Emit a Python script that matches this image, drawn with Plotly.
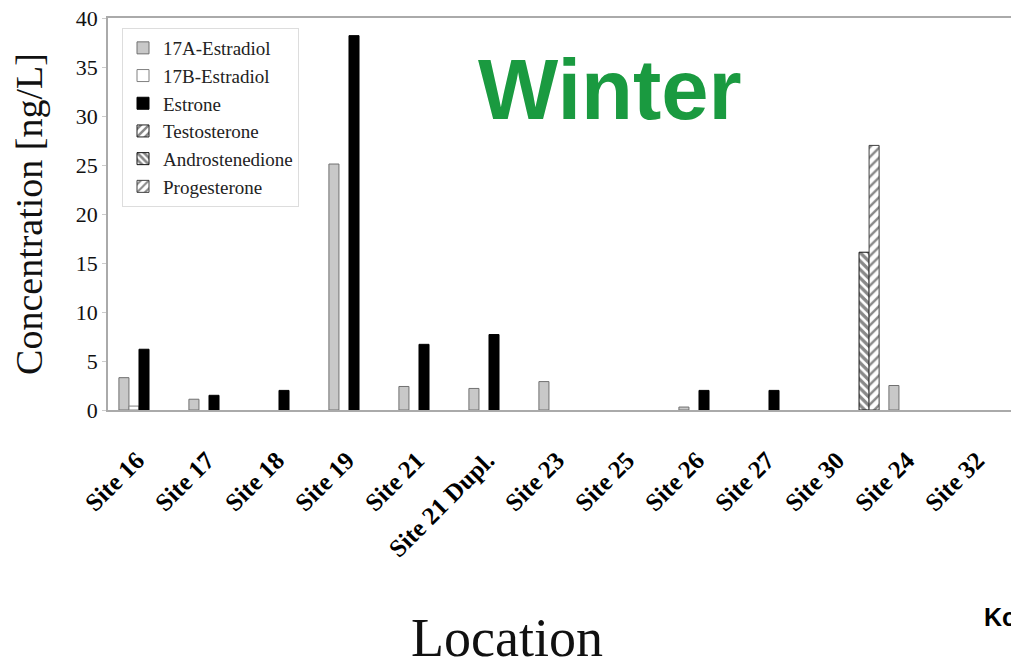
import plotly.graph_objects as go

sites = ["Site 16", "Site 17", "Site 18", "Site 19", "Site 21", "Site 21 Dupl.",
         "Site 23", "Site 25", "Site 26", "Site 27", "Site 30", "Site 24", "Site 32"]
N = None  # no bar drawn
estradiol_17a = [3.3, 1.1, N, 25.1, 2.4, 2.2, 2.9, N, 0.3, N, N, 2.5, N]
estradiol_17b = [0.4, N, N, N, N, N, N, N, N, N, N, N, N]
estrone = [6.2, 1.5, 2.0, 38.2, 6.7, 7.7, N, N, 2.0, 2.0, N, N, N]
testosterone = [N, N, N, N, N, N, N, N, N, N, N, N, N]
androstenedione = [N, N, N, N, N, N, N, N, N, N, 16.1, N, N]
progesterone = [N, N, N, N, N, N, N, N, N, N, 27.0, N, N]
y_ticks = [0, 5, 10, 15, 20, 25, 30, 35, 40]

series = [
    ("17A-Estradiol", estradiol_17a, "#c8c8c8", "#707070", "", 0, 7),
    ("17B-Estradiol", estradiol_17b, "#ffffff", "#808080", "", 0, 7),
    ("Estrone", estrone, "#000000", "#000000", "", 0, 7),
    ("Testosterone", testosterone, "#ffffff", "#202020", "/", 0.45, 7),
    ("Androstenedione", androstenedione, "#ffffff", "#111111", "\\", 0.55, 6),
    ("Progesterone", progesterone, "#ffffff", "#404040", "/", 0.35, 7),
]

fig = go.Figure()
for name, vals, fill, line, pat, sol, sz in series:
    fig.add_trace(go.Bar(
        x=sites, y=vals, name=name,
        marker=dict(color=fill, line=dict(color=line, width=1),
                    pattern=dict(shape=pat, fgcolor="#111111", bgcolor="#ffffff",
                                 size=sz, solidity=sol) if pat else None),
    ))

# page body has an 8px margin: work in window pixels, convert to figure pixels
OFF = 8
W, H = 1019 - OFF, 663 - OFF
L, T = 108 - OFF, 18 - OFF
R = W - (1018 - OFF)
B = H - (410 - OFF)
pw, ph = W - L - R, H - T - B


def px(x):
    return (x - OFF - L) / pw


def py(y):
    return (H - B - (y - OFF)) / ph


fig.update_layout(
    width=W, height=H,
    margin=dict(l=L, r=R, t=T, b=B),
    paper_bgcolor="white", plot_bgcolor="white",
    barmode="group", bargap=0.14, bargroupgap=0,
    font=dict(family="Liberation Serif", color="#111111"),
    showlegend=True,
    legend=dict(x=px(122), y=py(28), xanchor="left", yanchor="top",
                bgcolor="white", bordercolor="#dddddd", borderwidth=1,
                font=dict(family="Liberation Serif", size=19, color="#222222"),
                itemwidth=30, tracegroupgap=0),
    xaxis=dict(range=[-0.586, 12.414], tickangle=-45, automargin=False,
               tickfont=dict(family="Liberation Serif", size=25, color="#000000", weight="bold"),
               ticklabelstandoff=24, ticklabelshift=-12,
               showline=True, linecolor="#aaaaaa", linewidth=1.5, mirror=True,
               showgrid=False, ticks=""),
    yaxis=dict(range=[0, 40], tickvals=y_ticks, ticktext=[str(v) for v in y_ticks],
               automargin=False, ticklabeloverflow="allow",
               tickfont=dict(family="Liberation Serif", size=22, color="#111111"),
               showline=True, linecolor="#aaaaaa", linewidth=1.5, mirror=True,
               showgrid=False, zeroline=False, ticks="outside", ticklen=4,
               tickcolor="#cccccc",
               title=dict(text="Concentration [ng/L]",
                          font=dict(family="Liberation Serif", size=38, color="#111111"),
                          standoff=22)),
    annotations=[
        dict(text="Winter", x=px(610), y=py(89), xref="paper", yref="paper",
             xanchor="center", yanchor="middle", showarrow=False,
             font=dict(family="Liberation Sans", size=85, color="#1a9a40", weight="bold")),
        dict(text="Location", x=px(507), y=py(638), xref="paper", yref="paper",
             xanchor="center", yanchor="middle", showarrow=False,
             font=dict(family="Liberation Serif", size=54, color="#111111")),
        dict(text="Ko", x=px(982), y=py(617), xref="paper", yref="paper",
             xanchor="left", yanchor="middle", showarrow=False,
             font=dict(family="Liberation Sans", size=25, color="#000000", weight="bold")),
    ],
)
fig.write_html("out.html")
